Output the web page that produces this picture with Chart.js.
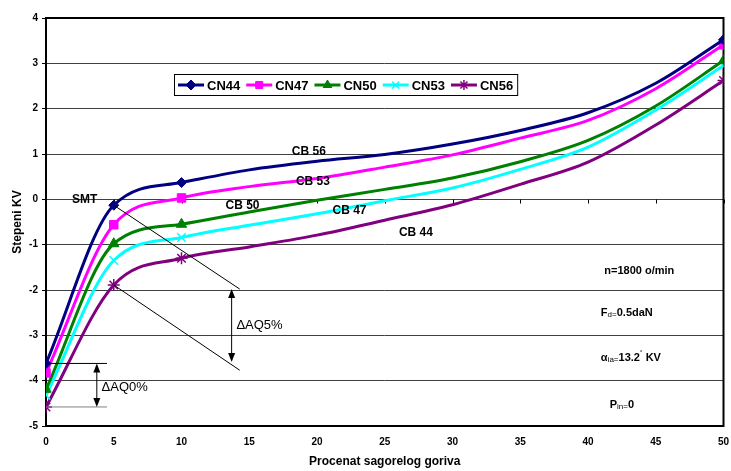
<!DOCTYPE html>
<html>
<head>
<meta charset="utf-8">
<script src="https://cdn.jsdelivr.net/npm/chart.js@4/dist/chart.umd.min.js"></script>
<style>
  html, body { margin: 0; padding: 0; background: #fff; }
  #chart { display: block; }
</style>
</head>
<body>
<canvas id="chart" width="731" height="471"></canvas>
<script>
// values
const fuelPct = [0, 5, 10, 15, 20, 25, 30, 35, 40, 45, 50];
const markedAt = [0, 5, 10, 50]; // only these points carry a marker
const cn44 = [-3.62, -0.13, 0.37, 0.65, 0.84, 0.99, 1.22, 1.52, 1.91, 2.56, 3.52];
const cn47 = [-3.83, -0.56, 0.03, 0.28, 0.46, 0.71, 0.98, 1.35, 1.74, 2.44, 3.41];
const cn50 = [-4.19, -0.98, -0.55, -0.28, -0.02, 0.22, 0.47, 0.83, 1.30, 2.06, 3.06];
const cn53 = [-4.32, -1.35, -0.84, -0.57, -0.32, -0.03, 0.25, 0.66, 1.15, 1.97, 2.95];
const cn56 = [-4.58, -1.89, -1.30, -1.05, -0.79, -0.46, -0.12, 0.33, 0.82, 1.64, 2.62];
const seriesNames = ['CN44', 'CN47', 'CN50', 'CN53', 'CN56'];
const curveLabels = ['CB 56', 'CB 53', 'CB 50', 'CB 47', 'CB 44'];
const xTicks = [0, 5, 10, 15, 20, 25, 30, 35, 40, 45, 50];
const yTicks = [-5, -4, -3, -2, -1, 0, 1, 2, 3, 4];

const FONT = 'Arial, "Liberation Sans", sans-serif';

function makeSet(name, values, color, style, radius, bw) {
  return {
    label: name,
    data: fuelPct.map((x, i) => ({ x: x, y: values[i] })),
    borderColor: color,
    backgroundColor: color,
    borderWidth: 3,
    pointStyle: style,
    pointRadius: fuelPct.map(x => markedAt.includes(x) ? radius : 0),
    pointBorderWidth: bw,
    pointBackgroundColor: color,
    pointBorderColor: color,
    cubicInterpolationMode: 'monotone'
  };
}

// draws a string made of normal / subscript / superscript parts
function richText(ctx, parts, x, y) {
  let cx = x;
  parts.forEach(p => {
    const kind = p[1] || '';
    ctx.font = kind ? '8px ' + FONT : 'bold 11px ' + FONT;
    const dy = kind === 'sub' ? 2 : (kind === 'sup' ? -4 : 0);
    ctx.fillText(p[0], cx, y + dy);
    cx += ctx.measureText(p[0]).width;
  });
}

function arrowHead(ctx, x, y, dir) {
  ctx.beginPath();
  ctx.moveTo(x, y);
  ctx.lineTo(x - 3.5, y - dir * 9);
  ctx.lineTo(x + 3.5, y - dir * 9);
  ctx.closePath();
  ctx.fill();
}

function dblArrow(ctx, x, y1, y2) {
  ctx.beginPath();
  ctx.moveTo(x, y1 + 6);
  ctx.lineTo(x, y2 - 6);
  ctx.stroke();
  arrowHead(ctx, x, y1, -1);
  arrowHead(ctx, x, y2, 1);
}

const extras = {
  id: 'extras',
  beforeDatasetsDraw(chart) {
    const { ctx, chartArea } = chart;
    const xs = chart.scales.x, ys = chart.scales.y;
    // small tick marks of the x axis crossing at 0
    ctx.save();
    ctx.strokeStyle = '#000';
    ctx.lineWidth = 1;
    const y0 = Math.round(ys.getPixelForValue(0)) + 0.5;
    xTicks.forEach(v => {
      const x = Math.round(xs.getPixelForValue(v)) + 0.5;
      ctx.beginPath();
      ctx.moveTo(x, y0);
      ctx.lineTo(x, y0 + 4);
      ctx.stroke();
    });
    // plot frame
    ctx.lineWidth = 2;
    ctx.strokeRect(chartArea.left, chartArea.top, chartArea.right - chartArea.left, chartArea.bottom - chartArea.top);
    ctx.restore();
  },
  afterDatasetsDraw(chart) {
    const { ctx } = chart;
    const xs = chart.scales.x, ys = chart.scales.y;
    const px = v => xs.getPixelForValue(v);
    const py = v => ys.getPixelForValue(v);
    ctx.save();
    ctx.strokeStyle = '#000';
    ctx.fillStyle = '#000';
    ctx.lineWidth = 1;

    // SMT guide lines
    ctx.beginPath();
    ctx.moveTo(px(5), py(cn44[1]));
    ctx.lineTo(px(14.3), py(-1.98));
    ctx.moveTo(px(5), py(cn56[1]));
    ctx.lineTo(px(14.3), py(-3.77));
    ctx.stroke();
    dblArrow(ctx, px(13.7), py(-1.98), py(-3.59));

    // spread at 0 %
    ctx.beginPath();
    ctx.moveTo(px(0), py(cn44[0]));
    ctx.lineTo(px(4.5), py(cn44[0]));
    ctx.stroke();
    ctx.strokeStyle = '#808080';
    ctx.beginPath();
    ctx.moveTo(px(0), py(cn56[0]));
    ctx.lineTo(px(4.5), py(cn56[0]));
    ctx.stroke();
    ctx.strokeStyle = '#000';
    dblArrow(ctx, px(3.75), py(cn44[0]), py(cn56[0]));

    ctx.textBaseline = 'middle';
    ctx.textAlign = 'left';
    ctx.font = '13px ' + FONT;
    ctx.fillText('\u0394AQ5%', px(14.05), py(-2.78));
    ctx.fillText('\u0394AQ0%', px(4.1), py(-4.14));

    ctx.font = 'bold 12px ' + FONT;
    ctx.textAlign = 'center';
    ctx.fillText('SMT', px(2.85), py(0));
    const labelPos = [[19.4, 1.04], [19.7, 0.40], [14.5, -0.15], [22.4, -0.24], [27.3, -0.74]];
    curveLabels.forEach((t, i) => ctx.fillText(t, px(labelPos[i][0]), py(labelPos[i][1])));

    // test conditions
    ctx.textAlign = 'left';
    richText(ctx, [['n=1800 o/min']], px(41.2), py(-1.59));
    richText(ctx, [['F'], ['d=', 'sub'], ['0.5daN']], px(40.95), py(-2.51));
    richText(ctx, [['\u03b1'], ['ia=', 'sub'], ['13.2'], ['\u02da', 'sup'], [' KV']], px(40.95), py(-3.5));
    richText(ctx, [['P'], ['in=', 'sub'], ['0']], px(41.6), py(-4.54));

    // legend
    const items = chart.data.datasets;
    ctx.font = 'bold 13px ' + FONT;
    const left = chart.chartArea.left + 128, top = chart.chartArea.top + 56;
    let w = 4;
    items.forEach((d, i) => { w += 29 + ctx.measureText(d.label).width + (i < items.length - 1 ? 6 : 4); });
    ctx.fillStyle = '#fff';
    ctx.fillRect(left, top, w, 21);
    ctx.strokeStyle = '#000';
    ctx.lineWidth = 1;
    ctx.strokeRect(left + 0.5, top + 0.5, w, 21);
    let lx = left + 4;
    const cy = top + 11;
    items.forEach(d => {
      ctx.strokeStyle = d.borderColor;
      ctx.fillStyle = d.borderColor;
      ctx.lineWidth = 3;
      ctx.beginPath();
      ctx.moveTo(lx, cy);
      ctx.lineTo(lx + 26, cy);
      ctx.stroke();
      ctx.lineWidth = d.pointBorderWidth;
      Chart.helpers.drawPoint(ctx, { pointStyle: d.pointStyle, radius: 5, rotation: 0, borderWidth: d.pointBorderWidth }, lx + 13, cy);
      ctx.fillStyle = '#000';
      ctx.font = 'bold 13px ' + FONT;
      ctx.fillText(d.label, lx + 29, cy + 1);
      lx += 29 + ctx.measureText(d.label).width + 6;
    });
    ctx.restore();
  }
};

const canvas = document.getElementById('chart');
const ctx = canvas.getContext('2d');
new Chart(ctx, {
  type: 'line',
  data: {
    datasets: [
      makeSet(seriesNames[0], cn44, '#000080', 'rectRot', 5, 1),
      makeSet(seriesNames[1], cn47, '#ff00ff', 'rect', 6, 1),
      makeSet(seriesNames[2], cn50, '#008000', 'triangle', 6, 1),
      makeSet(seriesNames[3], cn53, '#00ffff', 'crossRot', 6, 1.5),
      makeSet(seriesNames[4], cn56, '#800080', 'star', 6, 1.5)
    ]
  },
  options: {
    responsive: false,
    animation: false,
    devicePixelRatio: 1,
    layout: { padding: { top: 18, right: 5, left: 0, bottom: 0 } },
    plugins: {
      legend: { display: false },
      tooltip: { enabled: false }
    },
    scales: {
      x: {
        type: 'linear',
        min: 0,
        max: 50,
        afterBuildTicks: s => { s.ticks = xTicks.map(v => ({ value: v })); },
        grid: { drawOnChartArea: false, drawTicks: false },
        border: { display: false },
        ticks: { color: '#000', font: { family: FONT, size: 10, weight: 'bold' }, padding: 10, maxRotation: 0 },
        title: { display: true, text: 'Procenat sagorelog goriva', color: '#000', font: { family: FONT, size: 12, weight: 'bold' }, padding: { top: 0, bottom: 2 } },
        afterFit: s => {
          s.height = 45;
          s.paddingLeft = 0;
          s.paddingRight = 0;
          if (s._margins) { s._margins.left = 0; s._margins.right = 0; }
        }
      },
      y: {
        min: -5,
        max: 4,
        afterBuildTicks: s => { s.ticks = yTicks.map(v => ({ value: v })); },
        grid: { color: '#404040', lineWidth: 1, tickLength: 4, tickColor: '#000' },
        border: { display: false },
        ticks: { color: '#000', font: { family: FONT, size: 10, weight: 'bold' }, padding: 4 },
        title: { display: true, text: 'Stepeni KV', color: '#000', font: { family: FONT, size: 12, weight: 'bold' }, padding: { top: 10, bottom: 0 } },
        afterFit: s => { s.width = 46; s.paddingTop = 0; s.paddingBottom = 0; }
      }
    }
  },
  plugins: [extras]
});
</script>
</body>
</html>
